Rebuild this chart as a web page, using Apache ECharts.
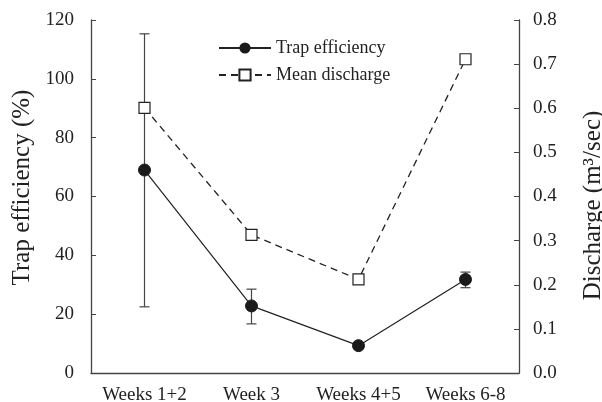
<!DOCTYPE html>
<html>
<head>
<meta charset="utf-8">
<script src="https://cdn.jsdelivr.net/npm/echarts@6/dist/echarts.min.js"></script>
<style>
  html, body { margin: 0; padding: 0; background: #fff; }
  #chart { width: 602px; height: 402px; }
</style>
</head>
<body>
<div id="chart"></div>
<script>
var weeks = ['Weeks 1+2', 'Week 3', 'Weeks 4+5', 'Weeks 6-8'];
var trapEff = [69, 22.8, 9.3, 31.8];
var trapLow = [22.5, 16.7, 8.3, 29.0];
var trapHigh = [115.3, 28.5, 10.3, 34.3];
var discharge = [0.601, 0.313, 0.212, 0.711];

var serif = 'Liberation Serif';
var axisCol = '#444';

var errData = [];
for (var i = 0; i < weeks.length; i++) {
    errData.push([i, trapLow[i], trapHigh[i]]);
}

var myChart = echarts.init(document.getElementById('chart'));
myChart.setOption({
    animation: false,
    textStyle: { fontFamily: serif },
    grid: { left: 91, right: 83, top: 20, bottom: 29, outerBoundsMode: 'none', containLabel: false },
    legend: {
        orient: 'vertical',
        left: 213,
        top: 34,
        itemWidth: 52,
        itemHeight: 14,
        itemGap: 9,
        textStyle: { fontFamily: serif, fontSize: 18, color: '#222' },
        data: ['Trap efficiency', 'Mean discharge']
    },
    xAxis: {
        type: 'category',
        data: weeks,
        boundaryGap: true,
        axisLine: { lineStyle: { color: axisCol, width: 1.3 } },
        axisTick: { inside: true, length: 4, lineStyle: { color: axisCol } },
        axisLabel: { fontFamily: serif, fontSize: 19, color: '#222', margin: 13, interval: 0, hideOverlap: false }
    },
    yAxis: [{
        type: 'value',
        min: 0,
        max: 120,
        interval: 20,
        name: 'Trap efficiency (%)',
        nameLocation: 'middle',
        nameRotate: 90,
        nameGap: 55,
        nameTextStyle: { fontFamily: serif, fontSize: 25, color: '#222', padding: [0, 0, 0, 18] },
        axisLine: { show: true, lineStyle: { color: axisCol, width: 1.3 } },
        axisTick: { show: true, inside: true, length: 5, lineStyle: { color: axisCol } },
        axisLabel: { fontFamily: serif, fontSize: 19, color: '#222', margin: 17 },
        splitLine: { show: false }
    }, {
        type: 'value',
        min: 0,
        max: 0.8,
        interval: 0.1,
        position: 'right',
        name: 'Discharge (m³/sec)',
        nameLocation: 'middle',
        nameRotate: 90,
        nameGap: 62,
        nameTextStyle: { fontFamily: serif, fontSize: 25, color: '#222', padding: [0, 18, 0, 0] },
        axisLine: { show: true, lineStyle: { color: axisCol, width: 1.3 } },
        axisTick: { show: true, inside: true, length: 5, lineStyle: { color: axisCol } },
        axisLabel: {
            fontFamily: serif, fontSize: 19, color: '#222', margin: 14,
            formatter: function (v) { return v.toFixed(1); }
        },
        splitLine: { show: false }
    }],
    series: [{
        name: 'err',
        type: 'custom',
        yAxisIndex: 0,
        z: 1,
        data: errData,
        renderItem: function (params, api) {
            var x = api.value(0);
            var lo = api.coord([x, api.value(1)]);
            var hi = api.coord([x, api.value(2)]);
            var w = 5;
            var st = { stroke: '#444', lineWidth: 1.2 };
            return {
                type: 'group',
                children: [
                    { type: 'line', shape: { x1: hi[0], y1: hi[1], x2: lo[0], y2: lo[1] }, style: st },
                    { type: 'line', shape: { x1: hi[0] - w, y1: hi[1], x2: hi[0] + w, y2: hi[1] }, style: st },
                    { type: 'line', shape: { x1: lo[0] - w, y1: lo[1], x2: lo[0] + w, y2: lo[1] }, style: st }
                ]
            };
        }
    }, {
        name: 'Trap efficiency',
        type: 'line',
        yAxisIndex: 0,
        z: 3,
        data: trapEff,
        symbol: 'circle',
        symbolSize: 12,
        lineStyle: { color: '#222', width: 1.2 },
        itemStyle: { color: '#1a1a1a', borderColor: '#1a1a1a' }
    }, {
        name: 'Mean discharge',
        type: 'line',
        yAxisIndex: 1,
        z: 3,
        data: discharge,
        symbol: 'rect',
        symbolSize: 11,
        lineStyle: { color: '#222', width: 1.3, type: [7, 5] },
        itemStyle: { color: '#fff', borderColor: '#222', borderWidth: 1.2 }
    }]
});
</script>
</body>
</html>
